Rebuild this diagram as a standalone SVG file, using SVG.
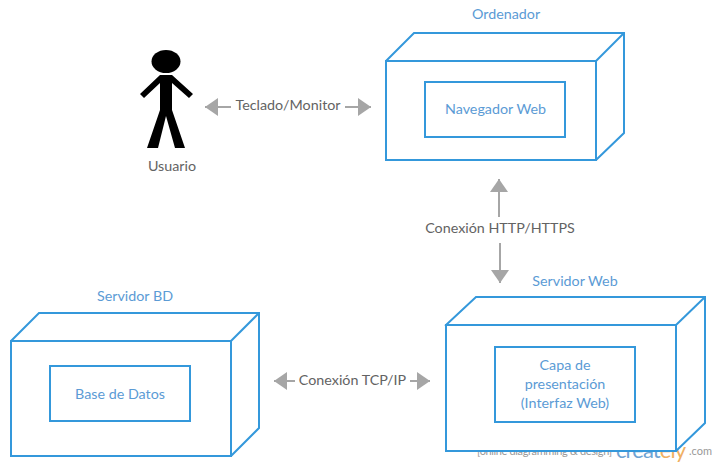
<svg xmlns="http://www.w3.org/2000/svg" width="715" height="466" viewBox="0 0 715 466">
<style>
text{font-family:Lato,"Open Sans","Liberation Sans",sans-serif;font-size:14.3px;text-anchor:middle}
.b{fill:#5b9bd5}
.g{fill:#636363}
.box{fill:#fff;stroke:#3498db;stroke-width:2}
.edge{fill:none;stroke:#3498db;stroke-width:2;stroke-linejoin:miter}
.c{fill:none;stroke:#a6a6a6;stroke-width:2;marker-end:url(#a)}
.wm{font-size:11px;fill:#999;text-anchor:start}
</style>
<defs>
<marker id="a" markerUnits="userSpaceOnUse" markerWidth="16" markerHeight="20" refX="13" refY="9" orient="auto"><path d="M0 0L13 9L0 18Z" fill="#a6a6a6"/></marker>
</defs>
<g id="watermark">
<text class="wm" x="477" y="455" textLength="135">[online diagramming &amp; design]</text>
<text x="616" y="458" textLength="70" style="font-size:22px;fill:#6fa3d3;text-anchor:start">creat<tspan fill="#f0b062">ely</tspan></text>
<text class="wm" x="689" y="455">.com</text>
</g>
<g id="connectors">
<path class="c" d="M231 107H205"/>
<path class="c" d="M345 107H371"/>
<path class="c" d="M499 217V179"/>
<path class="c" d="M500 243V283"/>
<path class="c" d="M295 381H274"/>
<path class="c" d="M410 381H430"/>
<text class="g" x="288" y="110">Teclado/Monitor</text>
<text class="g" x="500" y="233">Conexión HTTP/HTTPS</text>
<text class="g" x="352.500" y="385">Conexión TCP/IP</text>
</g>
<g id="usuario">
<ellipse cx="166" cy="61.500" rx="14.500" ry="11.500"/>
<path d="M160 75H172L193 94L189 98L172 83V110L185 148H175L166 116L158 148H147L160 110V83L144 98L140 94Z"/>
<text class="g" x="172" y="171">Usuario</text>
</g>
<g id="ordenador">
<text class="b" x="506" y="19">Ordenador</text>
<path class="edge" d="M386 61L414 33H624V133L596 160"/>
<path class="edge" d="M596 61L624 33"/>
<rect class="box" x="386" y="61" width="210" height="99"/>
<rect class="box" x="425" y="82" width="140" height="55"/>
<text class="b" x="495.500" y="114">Navegador Web</text>
</g>
<g id="servidor-web">
<text class="b" x="575" y="286">Servidor Web</text>
<path class="box" d="M446 325L476 297H705V423L676 451Z"/>
<path class="edge" d="M676 325L705 297"/>
<rect class="box" x="446" y="325" width="230" height="126"/>
<rect class="box" x="495" y="347" width="140" height="75"/>
<text class="b" x="565" y="370">Capa de</text>
<text class="b" x="565" y="389">presentación</text>
<text class="b" x="565" y="408">(Interfaz Web)</text>
</g>
<g id="servidor-bd">
<text class="b" x="135" y="301">Servidor BD</text>
<path class="edge" d="M11 341L39 313H259V428L231 456"/>
<path class="edge" d="M231 341L259 313"/>
<rect class="box" x="11" y="341" width="220" height="115"/>
<rect class="box" x="50" y="366" width="140" height="55"/>
<text class="b" x="120" y="399">Base de Datos</text>
</g>
</svg>
